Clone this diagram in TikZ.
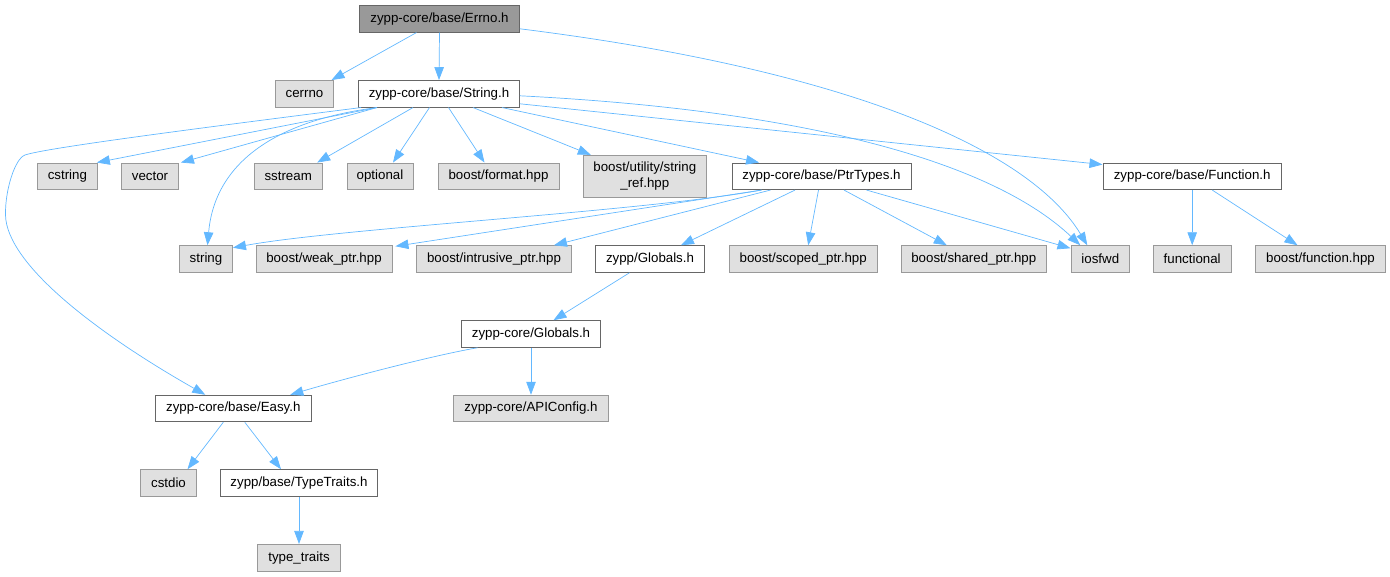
\documentclass[tikz,border=0pt]{standalone}
\usepackage{fontspec}
\setmainfont{Liberation Sans}
\usetikzlibrary{arrows.meta}
\definecolor{edgeblue}{HTML}{63B8FF}
\definecolor{extfill}{HTML}{E0E0E0}
\definecolor{extdraw}{HTML}{999999}
\definecolor{rootfill}{HTML}{999999}
\definecolor{nodedraw}{HTML}{666666}
\begin{document}
\begin{tikzpicture}[x=1pt,y=-1pt,
  box/.style={draw=nodedraw, fill=white, minimum height=26.6pt, inner sep=0pt,
    font=\fontsize{13.3}{16.5}\selectfont, line width=0.9pt},
  ext/.style={box, draw=extdraw, fill=extfill},
  root/.style={box, fill=rootfill, draw=nodedraw},
  dep/.style={draw=edgeblue, line width=0.7pt, -{Triangle[length=13pt,width=9.5pt]}}]
\useasboundingbox (0,0) rectangle (1390,576);

% nodes
\node[root,minimum width=160pt] (errno) at (439.5,18.8) {zypp-core/base/Errno.h};
\node[ext,minimum width=58pt] (cerrno) at (304.5,93.8) {cerrno};
\node[box,minimum width=161pt] (stringh) at (439,93.8) {zypp-core/base/String.h};

\node[ext,minimum width=60pt] (cstring) at (67.4,176.3) {cstring};
\node[ext,minimum width=57pt] (vector) at (150,176.3) {vector};
\node[ext,minimum width=67.5pt] (sstream) at (288.2,176.3) {sstream};
\node[ext,minimum width=66pt] (optional) at (380,176.3) {optional};
\node[ext,minimum width=121pt] (format) at (498.5,176.3) {boost/format.hpp};
\node[ext,minimum width=123pt,minimum height=42pt,align=center] (strref) at (644.8,176.3) {boost/utility/string\\\_ref.hpp};
\node[box,minimum width=179pt] (ptrtypes) at (821.5,176.3) {zypp-core/base/PtrTypes.h};
\node[box,minimum width=178.5pt] (function) at (1192.2,176.3) {zypp-core/base/Function.h};

\node[ext,minimum width=53pt] (stringn) at (206,259) {string};
\node[ext,minimum width=136pt] (weak) at (324,259) {boost/weak\_ptr.hpp};
\node[ext,minimum width=155pt] (intrusive) at (494,259) {boost/intrusive\_ptr.hpp};
\node[box,minimum width=109pt] (zglobals) at (650,259) {zypp/Globals.h};
\node[ext,minimum width=148.5pt] (scoped) at (803.2,259) {boost/scoped\_ptr.hpp};
\node[ext,minimum width=144.5pt] (shared) at (973.8,259) {boost/shared\_ptr.hpp};
\node[ext,minimum width=58.7pt] (iosfwd) at (1100.3,259) {iosfwd};
\node[ext,minimum width=78.5pt] (functional) at (1192.2,259) {functional};
\node[ext,minimum width=130pt] (funchpp) at (1320.5,259) {boost/function.hpp};

\node[box,minimum width=139pt] (zcglobals) at (531,334) {zypp-core/Globals.h};
\node[box,minimum width=156.6pt] (easy) at (233.3,408.5) {zypp-core/base/Easy.h};
\node[ext,minimum width=155pt] (apiconfig) at (531,408.5) {zypp-core/APIConfig.h};
\node[ext,minimum width=56pt] (cstdio) at (168.5,483) {cstdio};
\node[box,minimum width=157pt] (typetraits) at (299,483) {zypp/base/TypeTraits.h};
\node[ext,minimum width=83pt] (typetr) at (299,557.7) {type\_traits};

% edges from Errno.h
\draw[dep] ([xshift=-23pt]errno.south) -- ([xshift=27pt]cerrno.north);
\draw[dep] (errno.south) -- (stringh.north);
\draw[dep] ([yshift=-10pt]errno.east) .. controls (850,70) and (1030,150) .. ([xshift=-13pt]iosfwd.north);

% edges from String.h
\draw[dep] ([yshift=-2pt]stringh.east) .. controls (800,110) and (990,160) .. ([xshift=-20pt]iosfwd.north);
\draw[dep] ([yshift=-10pt]stringh.east) -- ([yshift=-2pt]function.north west);
\draw[dep] ([xshift=63pt]stringh.south) -- ([xshift=27.5pt]ptrtypes.north west);
\draw[dep] ([xshift=34pt]stringh.south) -- ([xshift=8pt]strref.north west);
\draw[dep] ([xshift=9.5pt]stringh.south) -- ([xshift=-14pt]format.north);
\draw[dep] ([xshift=-9.5pt]stringh.south) -- ([xshift=13pt]optional.north);
\draw[dep] ([xshift=-26pt]stringh.south) -- ([xshift=29pt]sstream.north);
\draw[dep] ([xshift=-62pt]stringh.south) .. controls (280,120) and (215,160) .. ([xshift=1.5pt]stringn.north);
\draw[dep] ([xshift=-62pt]stringh.south) -- ([xshift=2pt]vector.north east);
\draw[dep] ([xshift=-62pt]stringh.south) -- ([xshift=-1pt]cstring.north east);
\draw[dep] ([xshift=3pt]stringh.south west) .. controls (200,128) and (45,148) .. (25,155)
  .. controls (15,158.5) and (5,190) .. (5.5,215)
  .. controls (6.5,265) and (100,335) .. ([xshift=-28pt]easy.north);

% edges from PtrTypes.h
\draw[dep] ([xshift=-60pt]ptrtypes.south) .. controls (640,212) and (340,228) .. ([yshift=-2.5pt]stringn.north east);
\draw[dep] ([xshift=-60pt]ptrtypes.south) -- ([xshift=3pt,yshift=-1pt]weak.north east);
\draw[dep] ([xshift=-51pt]ptrtypes.south) -- ([xshift=60pt]intrusive.north);
\draw[dep] ([xshift=-26.5pt]ptrtypes.south) -- ([xshift=31pt]zglobals.north);
\draw[dep] ([xshift=-3pt]ptrtypes.south) -- ([xshift=5pt]scoped.north);
\draw[dep] ([xshift=22.5pt]ptrtypes.south) -- ([xshift=-27pt]shared.north);
\draw[dep] ([xshift=45pt]ptrtypes.south) -- ([yshift=-3pt]iosfwd.north west);

% edges from Function.h
\draw[dep] (function.south) -- (functional.north);
\draw[dep] ([xshift=20pt]function.south) -- ([xshift=-23pt]funchpp.north);

% lower part
\draw[dep] ([xshift=-20.5pt]zglobals.south) -- ([xshift=22.5pt]zcglobals.north);
\draw[dep] ([xshift=-53.5pt]zcglobals.south) .. controls (430,356) and (340,380) .. ([xshift=57pt]easy.north);
\draw[dep] (zcglobals.south) -- (apiconfig.north);
\draw[dep] ([xshift=-10pt]easy.south) -- ([xshift=19pt]cstdio.north);
\draw[dep] ([xshift=11.5pt]easy.south) -- ([xshift=-18pt]typetraits.north);
\draw[dep] (typetraits.south) -- (typetr.north);
\end{tikzpicture}
\end{document}
